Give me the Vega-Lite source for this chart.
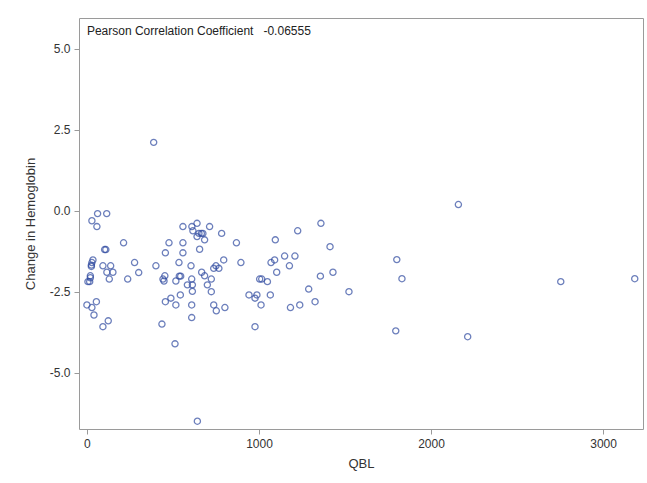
{
  "$schema": "https://vega.github.io/schema/vega-lite/v6.json",
  "autosize": "none",
  "width": 564,
  "height": 411,
  "padding": {"left": 79, "top": 18, "right": 4, "bottom": 54},
  "background": "white",
  "config": {
    "font": "Liberation Sans",
    "view": {"stroke": "#9a9a9a", "strokeWidth": 1},
    "axis": {
      "grid": false,
      "domain": false,
      "tickColor": "#9a9a9a",
      "tickSize": 5,
      "labelFont": "Liberation Sans",
      "labelFontSize": 12,
      "labelColor": "#333333",
      "titleFont": "Liberation Sans",
      "titleFontSize": 13,
      "titleFontWeight": "normal",
      "titleColor": "#333333"
    }
  },
  "layer": [
    {
      "data": {
        "values": [
          {"QBL": 29, "dHb": -0.31}, {"QBL": 62, "dHb": -0.09}, {"QBL": 115, "dHb": -0.09}, {"QBL": 58, "dHb": -0.49},
          {"QBL": 213, "dHb": -0.99}, {"QBL": 103, "dHb": -1.2}, {"QBL": 110, "dHb": -1.2}, {"QBL": 35, "dHb": -1.52},
          {"QBL": 29, "dHb": -1.6}, {"QBL": 26, "dHb": -1.68}, {"QBL": 26, "dHb": -1.72}, {"QBL": 93, "dHb": -1.7},
          {"QBL": 138, "dHb": -1.7}, {"QBL": 116, "dHb": -1.9}, {"QBL": 151, "dHb": -1.9}, {"QBL": 130, "dHb": -2.11},
          {"QBL": 20, "dHb": -2.01}, {"QBL": 20, "dHb": -2.07}, {"QBL": 6, "dHb": -2.19}, {"QBL": 16, "dHb": -2.19},
          {"QBL": 237, "dHb": -2.11}, {"QBL": 277, "dHb": -1.6}, {"QBL": 301, "dHb": -1.91}, {"QBL": 401, "dHb": -1.7},
          {"QBL": 0, "dHb": -2.91}, {"QBL": 29, "dHb": -2.99}, {"QBL": 55, "dHb": -2.81}, {"QBL": 41, "dHb": -3.22},
          {"QBL": 93, "dHb": -3.58}, {"QBL": 124, "dHb": -3.4}, {"QBL": 436, "dHb": -3.5}, {"QBL": 512, "dHb": -4.11},
          {"QBL": 456, "dHb": -1.3}, {"QBL": 477, "dHb": -0.99}, {"QBL": 558, "dHb": -0.49}, {"QBL": 558, "dHb": -0.99},
          {"QBL": 558, "dHb": -1.3}, {"QBL": 535, "dHb": -1.6}, {"QBL": 537, "dHb": -2.02}, {"QBL": 545, "dHb": -2.02},
          {"QBL": 453, "dHb": -2.01}, {"QBL": 442, "dHb": -2.11}, {"QBL": 448, "dHb": -2.17}, {"QBL": 517, "dHb": -2.17},
          {"QBL": 584, "dHb": -2.29}, {"QBL": 613, "dHb": -2.29}, {"QBL": 613, "dHb": -2.49}, {"QBL": 605, "dHb": -1.7},
          {"QBL": 609, "dHb": -2.11}, {"QBL": 543, "dHb": -2.6}, {"QBL": 488, "dHb": -2.7}, {"QBL": 456, "dHb": -2.81},
          {"QBL": 517, "dHb": -2.91}, {"QBL": 609, "dHb": -2.91}, {"QBL": 609, "dHb": -3.3}, {"QBL": 610, "dHb": -0.49},
          {"QBL": 616, "dHb": -0.62}, {"QBL": 640, "dHb": -0.39}, {"QBL": 640, "dHb": -0.8}, {"QBL": 651, "dHb": -0.7},
          {"QBL": 665, "dHb": -0.7}, {"QBL": 674, "dHb": -0.7}, {"QBL": 684, "dHb": -0.9}, {"QBL": 655, "dHb": -1.19},
          {"QBL": 713, "dHb": -0.49}, {"QBL": 783, "dHb": -0.7}, {"QBL": 667, "dHb": -1.9}, {"QBL": 684, "dHb": -2.01},
          {"QBL": 700, "dHb": -2.29}, {"QBL": 723, "dHb": -2.11}, {"QBL": 723, "dHb": -2.5}, {"QBL": 750, "dHb": -1.7},
          {"QBL": 737, "dHb": -1.78}, {"QBL": 767, "dHb": -1.78}, {"QBL": 795, "dHb": -1.52}, {"QBL": 737, "dHb": -2.91},
          {"QBL": 752, "dHb": -3.09}, {"QBL": 802, "dHb": -2.99}, {"QBL": 869, "dHb": -0.99}, {"QBL": 895, "dHb": -1.6},
          {"QBL": 942, "dHb": -2.6}, {"QBL": 977, "dHb": -2.7}, {"QBL": 988, "dHb": -2.6}, {"QBL": 977, "dHb": -3.58},
          {"QBL": 1012, "dHb": -2.91}, {"QBL": 1004, "dHb": -2.11}, {"QBL": 1016, "dHb": -2.11}, {"QBL": 1049, "dHb": -2.19},
          {"QBL": 1066, "dHb": -2.6}, {"QBL": 1070, "dHb": -1.6}, {"QBL": 1091, "dHb": -1.52}, {"QBL": 1095, "dHb": -0.9},
          {"QBL": 1103, "dHb": -1.9}, {"QBL": 1149, "dHb": -1.4}, {"QBL": 1177, "dHb": -1.7}, {"QBL": 1183, "dHb": -2.99},
          {"QBL": 1209, "dHb": -1.4}, {"QBL": 1225, "dHb": -0.62}, {"QBL": 1237, "dHb": -2.91}, {"QBL": 1289, "dHb": -2.42},
          {"QBL": 1326, "dHb": -2.81}, {"QBL": 1357, "dHb": -2.02}, {"QBL": 1360, "dHb": -0.39}, {"QBL": 1413, "dHb": -1.11},
          {"QBL": 1430, "dHb": -1.9}, {"QBL": 1523, "dHb": -2.5}, {"QBL": 2159, "dHb": 0.19}, {"QBL": 1801, "dHb": -1.51},
          {"QBL": 1831, "dHb": -2.1}, {"QBL": 1795, "dHb": -3.71}, {"QBL": 2213, "dHb": -3.89}, {"QBL": 2754, "dHb": -2.19},
          {"QBL": 3184, "dHb": -2.1}, {"QBL": 388, "dHb": 2.11}, {"QBL": 642, "dHb": -6.5}
        ]
      },
      "mark": {"type": "point", "shape": "circle", "filled": false, "size": 38, "strokeWidth": 1.3, "color": "#2f4aa0", "clip": true},
      "encoding": {
        "x": {
          "field": "QBL", "type": "quantitative",
          "scale": {"domain": [-46, 3232], "nice": false, "zero": false},
          "axis": {"values": [0, 1000, 2000, 3000], "format": "d", "title": "QBL", "labelPadding": 4, "titlePadding": 8}
        },
        "y": {
          "field": "dHb", "type": "quantitative",
          "scale": {"domain": [-6.74, 5.95], "nice": false, "zero": false},
          "axis": {"values": [-5, -2.5, 0, 2.5, 5], "labelExpr": "replace(format(datum.value, '.1f'), '\u2212', '-')", "title": "Change in Hemoglobin", "labelPadding": 4, "titlePadding": 12}
        }
      }
    },
    {
      "data": {"values": [{"label": "Pearson Correlation Coefficient\u00a0\u00a0\u00a0-0.06555"}]},
      "mark": {"type": "text", "align": "left", "baseline": "middle", "fontSize": 12, "font": "Liberation Sans", "color": "#222222"},
      "encoding": {
        "x": {"datum": 0, "type": "quantitative"},
        "y": {"datum": 5.55, "type": "quantitative"},
        "text": {"field": "label"}
      }
    }
  ]
}
